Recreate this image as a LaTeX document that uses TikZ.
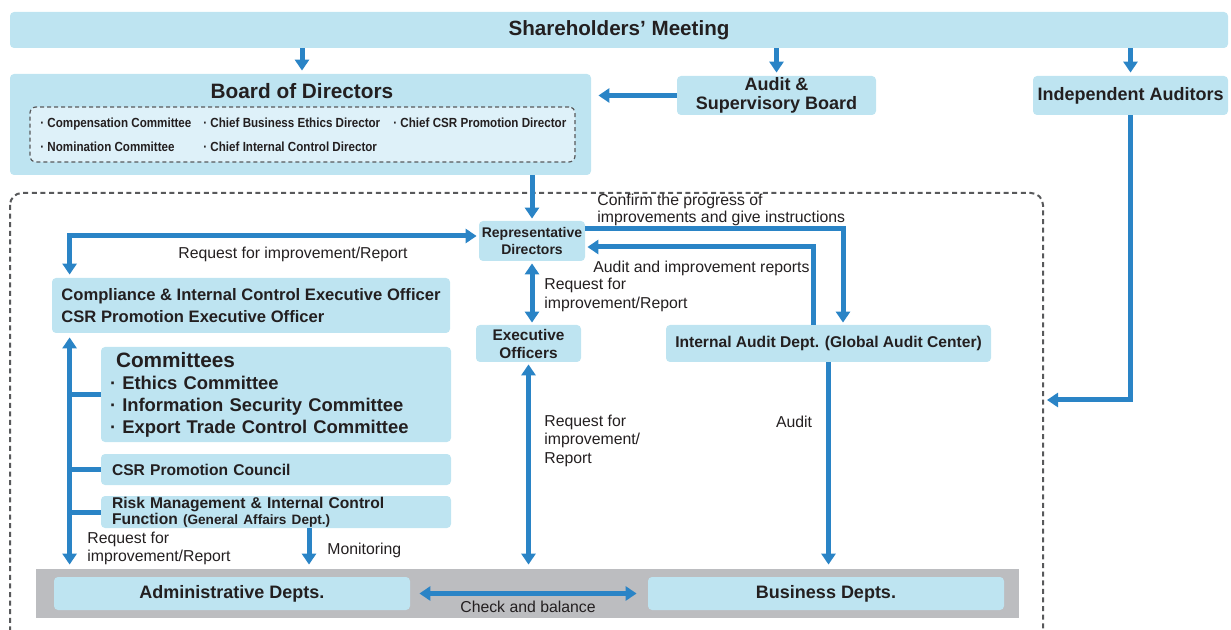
\documentclass[tikz,border=0pt]{standalone}
\usepackage{fontspec}
\setmainfont{Liberation Sans}
\usepackage{xcolor}
\usetikzlibrary{arrows.meta,calc}

\definecolor{boxblue}{HTML}{BEE4F1}
\definecolor{paleblue}{HTML}{DEF1F9}
\definecolor{linkblue}{HTML}{2A84C6}
\definecolor{bandgray}{HTML}{BCBDC0}
\definecolor{ink}{HTML}{231F20}
\definecolor{dashgray}{HTML}{58595B}
\newcommand{\setfs}[2]{\fontsize{#1}{#2}\selectfont}

\tikzset{
  box/.style={fill=boxblue, rounded corners=2pt, text=ink, inner sep=0pt, align=center},
  item/.style={anchor=base west, inner sep=0pt, text=ink, font=\bfseries\setfs{6.6}{7.5}\addfontfeatures{FakeStretch=0.88}},
  lbl/.style={inner sep=0pt, text=ink, align=left, font=\setfs{7.9}{9.5}},
  bar/.style={draw=linkblue, line width=2.5pt},
  link/.style={bar, -{Triangle[width=7pt,length=5.5pt]}},
  twoway/.style={bar, {Triangle[width=7pt,length=5.5pt]}-{Triangle[width=7pt,length=5.5pt]}},
}

\begin{document}
\begin{tikzpicture}[x=0.5pt,y=-0.5pt]
\useasboundingbox (0,0) rectangle (1231,630);

% outer dashed frame
\draw[dashgray, line width=1pt, dash pattern=on 2.5pt off 1.8pt, rounded corners=6pt] (10,193) rectangle (1043,645);

\node[box, minimum width=609pt, minimum height=18pt, font=\bfseries\setfs{10.3}{12}] (share) at (619,30) {Shareholders’ Meeting};

\node[box, minimum width=290.5pt, minimum height=50.5pt] (board) at (300.5,124.5) {};
\node[inner sep=0pt, text=ink, font=\bfseries\setfs{10.4}{12}] (boardtitle) at (302,91) {Board of Directors};
\node[draw=dashgray, fill=paleblue, line width=0.6pt, dash pattern=on 2pt off 1.5pt, rounded corners=3pt,
  minimum width=272.5pt, minimum height=27.5pt] (boardlist) at (302.5,134.5) {};
\node[item] (cc) at (40,128) {· Compensation Committee};
\node[item] (ce) at (203,128) {· Chief Business Ethics Director};
\node[item] (cp) at (393,128) {· Chief CSR Promotion Director};
\node[item] (nc) at (40,152) {· Nomination Committee};
\node[item] (ci) at (203,152) {· Chief Internal Control Director};

\node[box, minimum width=99.5pt, minimum height=19.5pt, font=\bfseries\setfs{9}{9.5}] (asb) at (776.5,95.5) {Audit \&\\Supervisory Board};
\node[box, minimum width=97.5pt, minimum height=19.5pt, font=\bfseries\setfs{9}{10}] (indep) at (1130.5,95.5) {Independent Auditors};

\node[box, minimum width=53pt, minimum height=20pt, font=\bfseries\setfs{7}{8.5}] (rep) at (532,241) {Representative\\Directors};
\node[box, align=left, minimum width=199pt, minimum height=27.5pt, font=\bfseries\setfs{8.3}{11}] (comp) at (251,305.5)
  {Compliance \& Internal Control Executive Officer\\CSR Promotion Executive Officer};
\node[box, minimum width=52.5pt, minimum height=18.5pt, font=\bfseries\setfs{7.7}{9}] (exec) at (528.5,343.5) {Executive\\Officers};
\node[box, minimum width=162.5pt, minimum height=18.5pt, font=\bfseries\setfs{7.8}{9}] (iad) at (828.5,343.5) {Internal Audit Dept. (Global Audit Center)};

\node[box, align=left, text width=166pt, inner xsep=4.5pt, minimum height=47.5pt, font=\bfseries\setfs{9.2}{10.8}] (cmte) at (276,394.5)
  {{\setfs{10.4}{11.5}\hspace*{3pt}Committees}\\[0.6pt]
   · Ethics Committee\\
   · Information Security Committee\\
   · Export Trade Control Committee};
\node[box, align=left, text width=164pt, inner xsep=5.5pt, minimum height=15.5pt, font=\bfseries\setfs{7.8}{9}] (csr) at (276,469.5) {CSR Promotion Council};
\node[box, align=left, text width=164pt, inner xsep=5.5pt, minimum height=16pt, font=\bfseries\setfs{7.8}{8}] (risk) at (276,512)
  {Risk Management \& Internal Control\\Function {\setfs{6.8}{8}(General Affairs Dept.)}};

\node[fill=bandgray, inner sep=0pt, minimum width=491.5pt, minimum height=24.5pt] (band) at (527.5,593.5) {};
\node[box, minimum width=178pt, minimum height=16.5pt, font=\bfseries\setfs{9}{10}] (admin) at (232,593.5) {Administrative Depts.};
\node[box, minimum width=178pt, minimum height=16.5pt, font=\bfseries\setfs{9}{10}] (biz) at (826,593.5) {Business Depts.};

% labels
\node[lbl] (lrc) at (293,254) {Request for improvement/Report};
\node[lbl, anchor=west] (lre) at (544,294.5) {Request for\\improvement/Report};
\node[lbl, anchor=west, font=\setfs{7.9}{8.5}] (lcf) at (597,210) {Confirm the progress of\\improvements and give instructions};
\node[lbl, anchor=west] (lar) at (593,268) {Audit and improvement reports};
\node[lbl] (lau) at (794,422) {Audit};
\node[lbl, anchor=west, font=\setfs{7.9}{9.25}] (lrx) at (544,440.5) {Request for\\improvement/\\Report};
\node[lbl, anchor=west, font=\setfs{7.9}{9}] (lrs) at (87,548) {Request for\\improvement/Report};
\node[lbl, anchor=west] (lmo) at (327,550) {Monitoring};
\node[lbl] (lcb) at (528,607) {Check and balance};

% connectors
\draw[link, shorten >=1.5pt] (share.south -| boardtitle) -- (board.north -| boardtitle);
\draw[link, shorten >=1.5pt] (share.south -| asb.north) -- (asb.north);
\draw[link, shorten >=1.5pt] (share.south -| indep.north) -- (indep.north);
\draw[link, shorten >=3.5pt] (asb.west) -- (asb.west -| board.east);
\coordinate (audin) at (1047,400);
\draw[link] (indep.south) |- (audin);
\draw[link, shorten >=1pt] (board.south -| rep.north) -- (rep.north);

\coordinate (spinetop) at ($(comp.north west)+(18,0)$);
\coordinate (spinebot) at ($(comp.south west)+(18,0)$);
\draw[twoway, shorten <=1.5pt, shorten >=1pt] (spinetop) |- ($(rep.west)+(0,-5)$);
\draw[twoway, shorten <=1pt, shorten >=1pt] (rep.south) -- (rep.south |- exec.north);
\draw[link, shorten >=1pt] ($(rep.east)+(0,-12)$) -| ($(iad.north)+(14.5,0)$);
\draw[link, shorten >=1pt] ($(iad.north)+(-15.5,0)$) |- ($(rep.east)+(0,6)$);
\draw[link, shorten >=2pt] (iad.south) -- (iad.south |- band.north);
\draw[twoway, shorten <=1pt, shorten >=2pt] (exec.south) -- (exec.south |- band.north);

\draw[twoway, shorten <=2pt, shorten >=2pt] (spinebot) -- (spinebot |- band.north);
\draw[bar] (cmte.west -| spinebot) -- (cmte.west);
\draw[bar] (csr.west -| spinebot) -- (csr.west);
\draw[bar] (risk.west -| spinebot) -- (risk.west);
\coordinate (monitor) at ($(risk.south)+(33,0)$);
\draw[link, shorten >=2pt] (monitor) -- (monitor |- band.north);
\draw[twoway, shorten <=4.5pt, shorten >=5.5pt] (admin.east) -- (biz.west);
\end{tikzpicture}
\end{document}
